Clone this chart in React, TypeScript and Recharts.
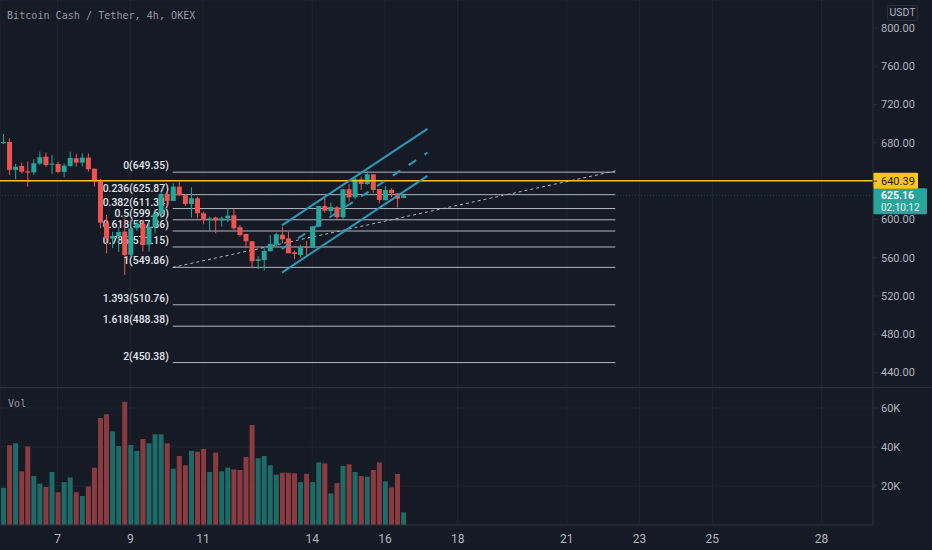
import React from "react";
import { ComposedChart, Bar, XAxis, YAxis, CartesianGrid, ReferenceLine } from "recharts";

const opens = [679.6,680.9,651.7,655.8,650.2,649.2,658.3,665.6,657.2,657.9,649.6,655.8,663.8,659.3,664.5,653,639.5,596.6,579.9,582.2,587.2,563,590.7,595.6,573.6,592.4,605.7,626.6,619.3,634.2,625.2,616.1,622,606.4,599.2,601.8,599,601.1,604.3,591.8,584.8,577.1,556.6,557.6,566.7,573.6,584,580.2,565.6,562.8,571.2,570.1,592.4,614,608.8,612.6,602.2,631.5,623.1,641.9,637,647.1,631.8,620,631,627.3,622.4];
const highs = [689.3,684.7,658,659.3,660.4,663,670.8,669.8,667.3,660.4,658.6,670.8,668.4,669,669,653,641.9,604.6,587,592,601,599,599,599.4,597.6,609.9,629,629,637.7,639.5,626,633.5,623.8,608.1,603,603,603,611.6,611.6,594.2,585,577.5,561.8,570,583.7,586.2,592.4,587.2,567.4,573.3,577.5,593,614,623,617.5,614,631.5,637,644.7,644.7,649.9,647.1,632,634.9,632.5,627.3,625.9];
const lows = [679,646.4,642,648.2,634.2,646.4,656.9,655.1,647.5,648.2,644,655.1,655.1,655.1,649.9,634.2,590.7,564.6,570,566,541.9,561,588,566.3,566.3,585.5,601,612.6,619,625,614,601.8,601,594.9,588.2,585.5,592.5,597,589,582,569.8,548.9,547.9,546.5,566.7,571.5,575,564.6,558.3,560,561.8,570,592,607,604.6,600,600,618.6,621,630.8,636,627.3,616.8,620,623.1,612.3,622.4];
const closes = [680.9,651.7,655.1,649.9,648.9,658.6,664.9,656.9,658.3,649.6,656.2,664.2,659.3,664.5,652.4,640.2,596.6,579.9,582.7,586.9,562.8,590.7,595.6,573.3,592.4,605.7,626.6,619.3,634.2,625.2,616.1,622,606.4,599.4,601.1,599,601.1,603.9,590.7,583.7,577.1,556.2,558.3,567,574.3,584.4,579.2,564.6,563.9,571.5,570.1,592.8,614,609.2,613,602.2,631.5,623.1,641.9,637,647.1,630.8,620.3,630.8,627.3,621.7,625.16];
const volumes = [19.1,40.9,41.9,27.5,40.3,25.1,21.2,19.5,27.2,16.8,22,24.4,16.8,14.9,19.8,29.4,54.9,56.8,48,40.5,63.2,41,38,44.1,41.9,46.5,46.5,41.9,28.9,35.4,30.6,38,37.6,39,27.2,37.1,27.5,29.4,28.5,28.2,34.9,51.3,34.2,35.4,30.6,25.8,26.8,26.8,26.5,22,26.3,22,32.1,31.6,16.2,21.5,30.3,31.1,27.2,25.1,24.8,28.2,32.1,22.4,19.3,26.2,6.5];

const slots = 144;
const dayTicks = [9,21,33,51,63,75,93,105,117,135];
const dayLabels = ["7","9","11","14","16","18","21","23","25","28"];
const priceTicks = [440,480,520,560,600,640,680,720,760,800];
const hiddenPriceLabel = 640;
const volumeTicks = [20,40,60];
const fibLevels = ["0","0.236","0.382","0.5","0.618","0.786","1","1.393","1.618","2"];
const fibPrices = [649.35,625.87,611.34,599.6,587.86,571.15,549.86,510.76,488.38,450.38];
const fibStart = 28;
const fibEnd = 101;
const channelStart = 46;
const channelEnd = 70;
const channelUpper = [593.8,694.5];
const channelMid = [569.1,669.7];
const channelLower = [544.3,645.4];
const trendLine = [549.86,650.6];
const alertPrice = 640.39;
const lastPrice = 625.16;
const countdown = "02:10:12";

const rows = Array.from({ length: slots }, (_, i) =>
  i < opens.length
    ? { i, o: opens[i], h: highs[i], l: lows[i], c: closes[i], range: [lows[i], highs[i]], v: volumes[i] }
    : { i }
);

const BG = "#161a25";
const GRID = "#1f2430";
const AXIS = "#2a2e39";
const TEXT = "#b2b5be";
const UP = "#26a69a";
const DOWN = "#ef5350";
const CHANNEL = "#2a9ab8";
const FONT = "Roboto, sans-serif";

const Candle = (props: any) => {
  const { x, y, width, height, payload } = props;
  if (!payload || payload.h === undefined) return null;
  const k = height / (payload.h - payload.l);
  const top = y + (payload.h - Math.max(payload.o, payload.c)) * k;
  const bh = Math.max(Math.abs(payload.o - payload.c) * k, 1);
  const color = payload.c >= payload.o ? UP : DOWN;
  const cx = x + width / 2;
  return (
    <g>
      <rect x={cx - 0.5} y={y} width={1} height={height} fill={color} />
      <rect x={x} y={top} width={width} height={bh} fill={color} />
    </g>
  );
};

const VolumeBar = (props: any) => {
  const { x, y, width, height, payload } = props;
  if (!payload || payload.v === undefined) return null;
  return <rect x={x} y={y} width={width} height={height} fill={payload.c >= payload.o ? "#1e6a67" : "#8a3b40"} />;
};

const fibLabel = (text: string) => (p: any) => (
  <text x={p.viewBox.x - 4} y={p.viewBox.y - 3} textAnchor="end" fill="#e0e3eb" fontSize={10.4} fontWeight={500} fontFamily={FONT}>
    {text}
  </text>
);

const AlertTag = (p: any) => (
  <g>
    <rect x={873} y={p.viewBox.y - 8} width={45} height={16} rx={1} fill="#ffc61a" />
    <text x={881} y={p.viewBox.y + 4} fill="#131722" fontSize={11} fontFamily={FONT}>{alertPrice.toFixed(2)}</text>
  </g>
);

const LastTag = (p: any) => (
  <g>
    <rect x={873} y={p.viewBox.y - 7} width={54} height={26} rx={1} fill={UP} />
    <text x={881} y={p.viewBox.y + 4} fill="#ffffff" fontSize={10.5} fontWeight={600} fontFamily={FONT}>{lastPrice.toFixed(2)}</text>
    <text x={881} y={p.viewBox.y + 15.8} fill="#e6f4f2" fontSize={10} fontFamily={FONT}>{countdown}</text>
  </g>
);

const abs = (left: number, top: number): React.CSSProperties => ({ position: "absolute", left, top });

export default function App() {
  return (
    <div style={{ ...abs(0, 0), width: 932, height: 550, background: BG, overflow: "hidden" }}>
      <div style={abs(0, 0)}>
        <ComposedChart width={932} height={388} data={rows} margin={{ top: 0, right: 0, bottom: 0, left: 0 }}>
          <CartesianGrid stroke={GRID} strokeWidth={1} />
          <XAxis dataKey="i" hide ticks={dayTicks} interval={0} />
          <YAxis
            yAxisId="p"
            orientation="right"
            width={59}
            type="number"
            domain={[423.8, 829.26]}
            allowDataOverflow
            ticks={priceTicks}
            tickFormatter={(v: number) => (v === hiddenPriceLabel ? "" : v.toFixed(2))}
            tick={{ fill: TEXT, fontSize: 11, fontFamily: FONT, textAnchor: "start" }}
            tickSize={4}
            tickMargin={4}
            stroke={AXIS}
          />
          {fibPrices.map((p, k) => (
            <ReferenceLine
              key={k}
              yAxisId="p"
              segment={[{ x: fibStart, y: p }, { x: fibEnd, y: p }]}
              stroke="#b2b5be"
              strokeWidth={1}
              zIndex={100}
              label={fibLabel(`${fibLevels[k]}(${p.toFixed(2)})`)}
            />
          ))}
          <ReferenceLine yAxisId="p" segment={[{ x: fibStart, y: trendLine[0] }, { x: fibEnd, y: trendLine[1] }]} stroke="#b2b5be" strokeDasharray="3 3" zIndex={100} />
          <ReferenceLine yAxisId="p" y={lastPrice} stroke="#1a4a4a" strokeDasharray="1 2" zIndex={100} label={LastTag} />
          <Bar yAxisId="p" dataKey="range" barSize={5} shape={Candle} isAnimationActive={false} />
          <ReferenceLine yAxisId="p" y={alertPrice} stroke="#ffc61a" strokeWidth={1.5} label={AlertTag} />
          <ReferenceLine yAxisId="p" segment={[{ x: channelStart, y: channelUpper[0] }, { x: channelEnd, y: channelUpper[1] }]} stroke={CHANNEL} strokeWidth={2} />
          <ReferenceLine yAxisId="p" segment={[{ x: channelStart, y: channelMid[0] }, { x: channelEnd, y: channelMid[1] }]} stroke={CHANNEL} strokeWidth={2} strokeDasharray="9 10" />
          <ReferenceLine yAxisId="p" segment={[{ x: channelStart, y: channelLower[0] }, { x: channelEnd, y: channelLower[1] }]} stroke={CHANNEL} strokeWidth={2} />
        </ComposedChart>
      </div>
      <div style={abs(0, 388)}>
        <ComposedChart width={932} height={162} data={rows} margin={{ top: 0, right: 0, bottom: 0, left: 0 }}>
          <CartesianGrid stroke={GRID} strokeWidth={1} />
          <XAxis
            dataKey="i"
            height={25}
            ticks={dayTicks}
            interval={0}
            tickFormatter={(v: number) => dayLabels[dayTicks.indexOf(v)]}
            tick={{ fill: TEXT, fontSize: 12, fontFamily: FONT }}
            tickLine={false}
            tickMargin={3}
            stroke={AXIS}
          />
          <YAxis
            orientation="right"
            width={59}
            type="number"
            domain={[0, 70.26]}
            allowDataOverflow
            ticks={volumeTicks}
            tickFormatter={(v: number) => `${v}K`}
            tick={{ fill: TEXT, fontSize: 11, fontFamily: FONT, textAnchor: "start" }}
            tickSize={4}
            tickMargin={4}
            stroke={AXIS}
          />
          <Bar dataKey="v" barSize={5} shape={VolumeBar} isAnimationActive={false} />
        </ComposedChart>
      </div>
      <div style={{ ...abs(0, 387), width: 932, height: 1, background: AXIS }} />
      <div style={{ ...abs(7, 9), color: "#9598a1", font: "10.1px/14px 'DejaVu Sans Mono', monospace", whiteSpace: "pre" }}>Bitcoin Cash / Tether, 4h, OKEX</div>
      <div style={{ ...abs(8, 397), color: "#9598a1", font: "10.1px/14px 'DejaVu Sans Mono', monospace" }}>Vol</div>
      <div style={{ ...abs(887, 5), width: 31, height: 16, boxSizing: "border-box", border: `1px solid ${AXIS}`, borderRadius: 3, color: TEXT, font: `10.5px/14px ${FONT}`, textAlign: "center" }}>USDT</div>
    </div>
  );
}
